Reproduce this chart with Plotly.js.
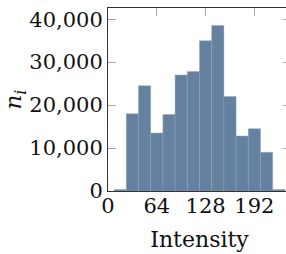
<!DOCTYPE html>
<html>
<head>
<meta charset="utf-8">
<script src="https://cdn.plot.ly/plotly-3.0.1.min.js"></script>
<style>
html,body{margin:0;padding:0;overflow:hidden;background:#fff;width:286px;height:254px;}
#chart{width:292px;height:254px;}
</style>
</head>
<body>
<div id="chart"></div>
<script>
// Histogram bins (center of each 16-wide bin) and counts
const binCenters = [16, 32, 48, 64, 80, 96, 112, 128, 144, 160, 176, 192, 208, 224];
const counts = [350, 18000, 24500, 13500, 17800, 27000, 27800, 35000, 38500, 22000, 12800, 14500, 9000, 350];
const binWidth = 16;
const xTickVals = [0, 64, 128, 192];
const xTickText = ['0', '64', '128', '192'];
const yTickVals = [0, 10000, 20000, 30000, 40000];
const yTickText = ['0', '10,000', '20,000', '30,000', '40,000'];

const serif = 'DejaVu Serif';

const trace = {
  type: 'bar',
  x: binCenters,
  y: counts,
  width: binCenters.map(() => binWidth),
  marker: {color: '#6482a0', line: {color: '#8aa2bb', width: 0.4}},
  hoverinfo: 'none'
};

const layout = {
  width: 292,
  height: 254,
  margin: {l: 108, r: 1, t: 8, b: 63, pad: 0},
  paper_bgcolor: '#fff',
  plot_bgcolor: '#fff',
  showlegend: false,
  bargap: 0,
  font: {family: serif, color: '#111'},
  xaxis: {
    range: [0, 240],
    tickvals: xTickVals,
    ticktext: xTickText,
    ticks: 'inside',
    ticklen: 8,
    tickwidth: 1,
    tickcolor: '#aaaaaa',
    ticklabelstandoff: -4,
    showline: true,
    linecolor: '#333333',
    linewidth: 1,
    mirror: 'ticks',
    showgrid: false,
    zeroline: false,
    layer: 'below traces',
    tickfont: {family: serif, size: 21, color: '#111'},
    title: {text: 'Intensity', font: {family: serif, size: 22, color: '#111'}, standoff: 14},
    automargin: false,
    fixedrange: true
  },
  yaxis: {
    range: [0, 42600],
    tickvals: yTickVals,
    ticktext: yTickText,
    ticks: 'inside',
    ticklen: 8,
    tickwidth: 1,
    tickcolor: '#aaaaaa',
    showline: true,
    linecolor: '#333333',
    linewidth: 1,
    mirror: 'ticks',
    showgrid: false,
    zeroline: false,
    layer: 'below traces',
    tickfont: {family: serif, size: 21, color: '#111'},
    title: {text: '<i>n</i><sub><i>i</i></sub>', font: {family: serif, size: 23, color: '#111'}},
    automargin: false,
    fixedrange: true
  }
};

Plotly.newPlot('chart', [trace], layout, {displayModeBar: false, staticPlot: true});
</script>
</body>
</html>
